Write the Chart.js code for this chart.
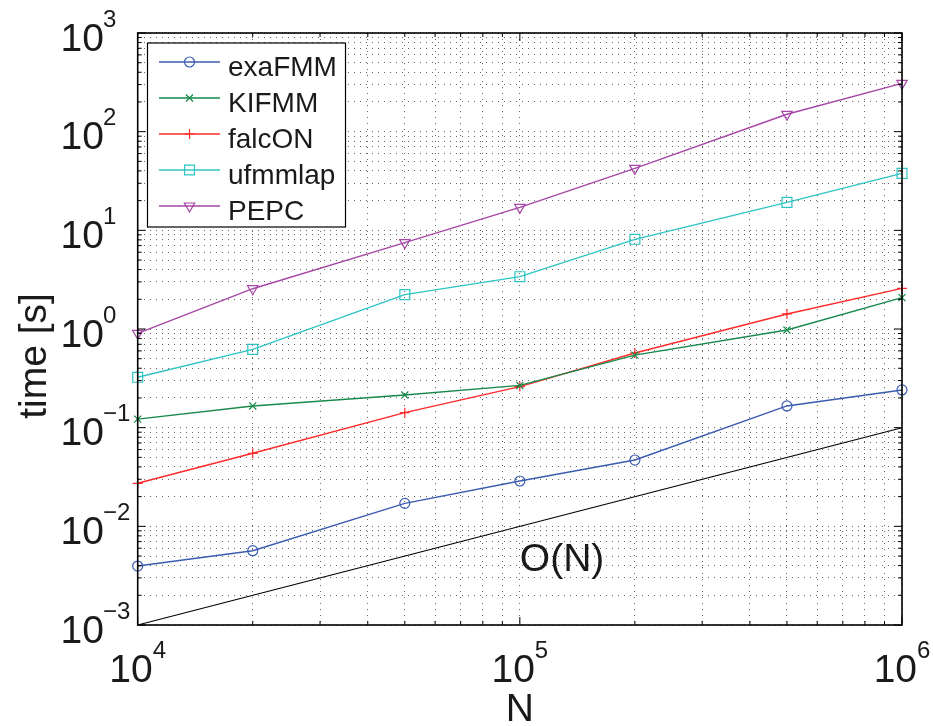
<!DOCTYPE html>
<html>
<head>
<meta charset="utf-8">
<script src="https://cdn.jsdelivr.net/npm/chart.js@4.4.0/dist/chart.umd.min.js"></script>
<style>
  html, body { margin: 0; padding: 0; background: #fff; }
  #wrap { width: 933px; height: 726px; }
</style>
</head>
<body>
<div id="wrap"><canvas id="chart" width="933" height="726"></canvas></div>
<script>
// problem size N and run times [s]
const nValues = [1e4, 2e4, 5e4, 1e5, 2e5, 5e5, 1e6];
const exaFMM  = [0.00396, 0.00566, 0.0171, 0.0288, 0.047, 0.166, 0.241];
const kifmm   = [0.122, 0.166, 0.214, 0.268, 0.544, 0.977, 2.08];
const falcON  = [0.0273, 0.055, 0.142, 0.261, 0.571, 1.42, 2.58];
const ufmmlap = [0.324, 0.622, 2.23, 3.39, 8.11, 19.2, 37.8];
const pepc    = [0.904, 2.56, 7.5, 17.1, 42.5, 150, 309];

// O(N) reference line
const refN    = [1e4, 1e6];
const refTime = [1e-3, 1e-1];

const seriesNames = ['exaFMM', 'KIFMM', 'falcON', 'ufmmlap', 'PEPC'];
const xTickExps = [4, 5, 6];
const yTickExps = [-3, -2, -1, 0, 1, 2, 3];

const FONT = '"Liberation Sans", Arial, Helvetica, sans-serif';
const TEXT = '#1a1a1a';

const toPoints = (xs, ys) => xs.map((x, i) => ({ x: x, y: ys[i] }));

// 1..9 x 10^k ticks, like matlab's minor grid
function logTicks(min, max) {
  const out = [];
  for (let e = Math.floor(Math.log10(min)); e <= Math.ceil(Math.log10(max)); e++) {
    for (let s = 1; s <= 9; s++) {
      const v = parseFloat((s * Math.pow(10, e)).toPrecision(6));
      if (v >= min * 0.999 && v <= max * 1.001) out.push({ value: v, major: s === 1 });
    }
  }
  return out;
}

function series(label, values, color, style, radius, rotation) {
  return {
    label: label,
    data: toPoints(nValues, values),
    borderColor: color,
    backgroundColor: color,
    borderWidth: 1.4,
    pointStyle: style,
    pointRadius: radius,
    pointRotation: rotation || 0,
    pointBorderColor: color,
    pointBackgroundColor: 'rgba(0,0,0,0)',
    pointBorderWidth: 1.2,
    showLine: true,
    clip: false
  };
}

const datasets = [
  series(seriesNames[0], exaFMM, '#3a5bb0', 'circle', 5),
  series(seriesNames[1], kifmm, '#17894a', 'crossRot', 5),
  series(seriesNames[2], falcON, '#ff2a2a', 'cross', 5),
  series(seriesNames[3], ufmmlap, '#2ec4c4', 'rect', 7),
  series(seriesNames[4], pepc, '#a646a6', 'triangle', 6, 180),
  {
    label: 'O(N)',
    data: toPoints(refN, refTime),
    borderColor: '#000',
    borderWidth: 1.1,
    pointRadius: 0,
    showLine: true,
    clip: false
  }
];

const matlabAxes = {
  id: 'matlabAxes',
  afterDatasetsDraw(chart) {
    const { ctx, chartArea: a } = chart;
    const xs = chart.scales.x, ys = chart.scales.y;
    ctx.save();
    ctx.strokeStyle = '#000';
    ctx.lineWidth = 1;
    ctx.beginPath();
    xs.ticks.forEach(t => {
      const px = xs.getPixelForValue(t.value);
      const len = t.major ? 8 : 4;
      ctx.moveTo(px, a.bottom); ctx.lineTo(px, a.bottom - len);
      ctx.moveTo(px, a.top); ctx.lineTo(px, a.top + len);
    });
    ys.ticks.forEach(t => {
      const py = ys.getPixelForValue(t.value);
      const len = t.major ? 8 : 4;
      ctx.moveTo(a.left, py); ctx.lineTo(a.left + len, py);
      ctx.moveTo(a.right, py); ctx.lineTo(a.right - len, py);
    });
    ctx.stroke();

    ctx.lineWidth = 1.6;
    ctx.strokeRect(a.left, a.top, a.right - a.left, a.bottom - a.top);

    // legend box
    const lx = 147.5, ly = 43, lw = 198, lh = 184;
    ctx.fillStyle = '#fff';
    ctx.fillRect(lx, ly, lw, lh);
    ctx.lineWidth = 1.2;
    ctx.strokeStyle = '#000';
    ctx.strokeRect(lx, ly, lw, lh);
    ctx.font = '28px ' + FONT;
    ctx.textAlign = 'left';
    ctx.textBaseline = 'alphabetic';
    for (let i = 0; i < seriesNames.length; i++) {
      const ds = chart.data.datasets[i];
      const cy = 62 + 36 * i;
      ctx.strokeStyle = ds.borderColor;
      ctx.lineWidth = 1.6;
      ctx.beginPath();
      ctx.moveTo(159, cy); ctx.lineTo(220, cy);
      ctx.stroke();
      ctx.lineWidth = ds.pointBorderWidth;
      ctx.fillStyle = 'rgba(0,0,0,0)';
      Chart.helpers.drawPoint(ctx, {
        pointStyle: ds.pointStyle, radius: ds.pointRadius,
        rotation: ds.pointRotation, borderWidth: ds.pointBorderWidth
      }, 189.5, cy);
      ctx.fillStyle = TEXT;
      ctx.fillText(ds.label, 228, cy + 14);
    }
    ctx.restore();
  },
  afterDraw(chart) {
    const { ctx, chartArea: a } = chart;
    const xs = chart.scales.x, ys = chart.scales.y;
    ctx.save();
    ctx.fillStyle = TEXT;
    ctx.textBaseline = 'alphabetic';

    // y tick labels: 10 with superscript exponent
    yTickExps.forEach(e => {
      const py = ys.getPixelForValue(Math.pow(10, e));
      ctx.font = '39px ' + FONT;
      ctx.textAlign = 'right';
      ctx.fillText('10', 104, py + 17.7);
      ctx.font = '24px ' + FONT;
      ctx.textAlign = 'left';
      ctx.fillText(String(e).replace('-', '\u2212'), 103, py - 6.5);
    });

    // x tick labels, centred on the tick
    xTickExps.forEach(e => {
      const px = xs.getPixelForValue(Math.pow(10, e));
      ctx.font = '39px ' + FONT;
      const wb = ctx.measureText('10').width;
      ctx.font = '24px ' + FONT;
      const we = ctx.measureText(String(e)).width;
      const x0 = px - (wb + we) / 2;
      ctx.textAlign = 'left';
      ctx.font = '39px ' + FONT;
      ctx.fillText('10', x0, a.bottom + 57);
      ctx.font = '24px ' + FONT;
      ctx.fillText(String(e), x0 + wb, a.bottom + 33);
    });

    // axis titles
    ctx.font = '39px ' + FONT;
    ctx.textAlign = 'center';
    ctx.fillText('N', (a.left + a.right) / 2, 721);
    ctx.save();
    ctx.translate(46, 356);
    ctx.rotate(-Math.PI / 2);
    ctx.fillText('time [s]', 0, 0);
    ctx.restore();

    // O(N) annotation
    ctx.textAlign = 'left';
    ctx.fillText('O(N)', xs.getPixelForValue(1e5), ys.getPixelForValue(5e-3) + 14.5);
    ctx.restore();
  }
};

const gridOpts = {
  color: 'rgba(0,0,0,0.6)',
  lineWidth: 1,
  drawTicks: false,
  tickLength: 0
};

new Chart(document.getElementById('chart').getContext('2d'), {
  type: 'scatter',
  data: { datasets: datasets },
  options: {
    responsive: false,
    animation: false,
    layout: { padding: { top: 33, right: 31, left: 0, bottom: 0 } },
    plugins: { legend: { display: false }, tooltip: { enabled: false } },
    scales: {
      x: {
        type: 'logarithmic',
        min: 1e4,
        max: 1e6,
        grid: gridOpts,
        border: { display: false, dash: [1, 5] },
        ticks: { display: false, autoSkip: false },
        afterBuildTicks: s => { s.ticks = logTicks(1e4, 1e6); },
        afterFit: s => { s.height = 101; }
      },
      y: {
        type: 'logarithmic',
        min: 1e-3,
        max: 1e3,
        grid: gridOpts,
        border: { display: false, dash: [1, 5] },
        ticks: { display: false, autoSkip: false },
        afterBuildTicks: s => { s.ticks = logTicks(1e-3, 1e3); },
        afterFit: s => { s.width = 137.7; }
      }
    }
  },
  plugins: [matlabAxes]
});
</script>
</body>
</html>
